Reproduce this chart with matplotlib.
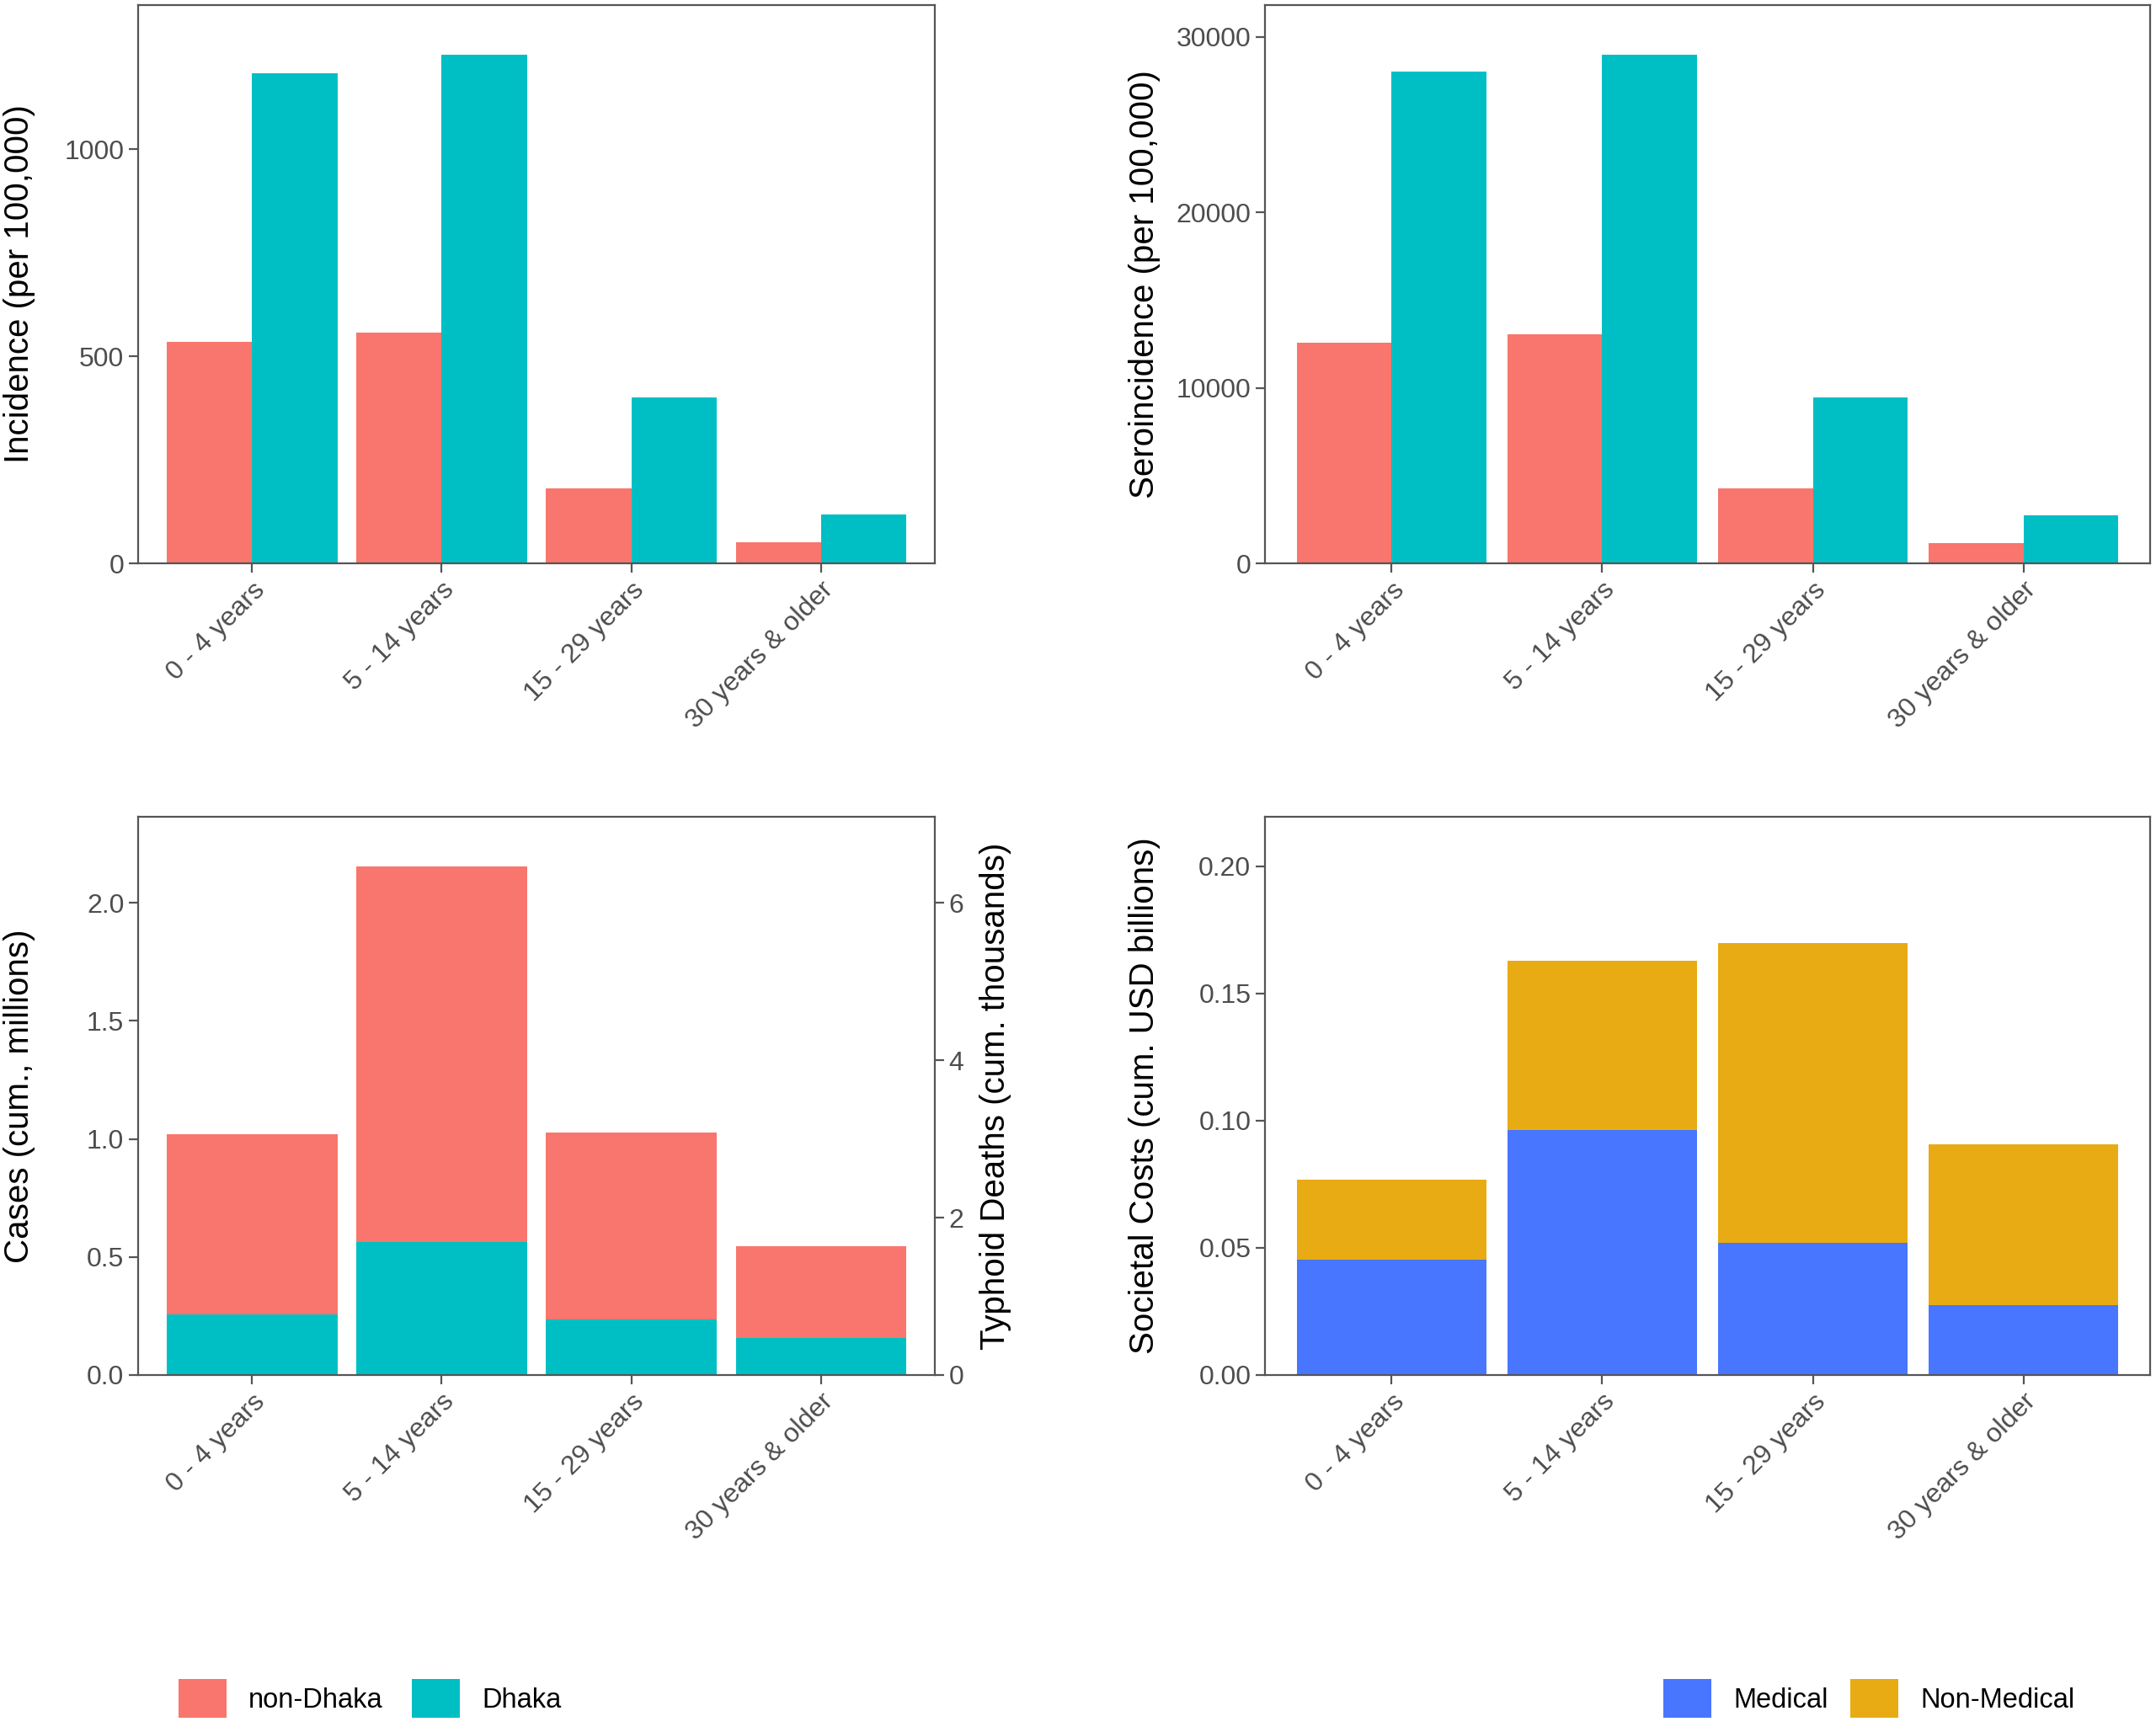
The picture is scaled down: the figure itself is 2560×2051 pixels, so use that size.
import matplotlib
matplotlib.use("Agg")
import matplotlib.pyplot as plt
from matplotlib.patches import Patch
import numpy as np

plt.rcParams['font.family'] = ['Liberation Sans', 'DejaVu Sans']

# ---------------- data ----------------
age_groups = ["0 - 4 years", "5 - 14 years", "15 - 29 years", "30 years & older"]

incidence_non_dhaka = [534, 558, 181, 50]
incidence_dhaka = [1184, 1229, 401, 117]

seroincidence_non_dhaka = [12580, 13070, 4250, 1160]
seroincidence_dhaka = [28050, 28980, 9460, 2750]

cases_dhaka = [0.255, 0.565, 0.234, 0.157]
cases_non_dhaka = [0.765, 1.590, 0.793, 0.390]

costs_medical = [0.0455, 0.0963, 0.0520, 0.0275]
costs_non_medical = [0.0312, 0.0665, 0.1178, 0.0631]

# ---------------- style ----------------
C_NON_DHAKA = "#F8766D"
C_DHAKA = "#00BFC4"
C_MED = "#4876FF"
C_NONMED = "#E8AB13"
SPINE = "#555555"
TICKTXT = "#4D4D4D"

TICK_FS = 23
TITLE_FS = 29
LEG_FS = 23.5

fig = plt.figure(figsize=(25.6, 20.51), dpi=100)

W, H = 2560, 2051
def axpos(l, r, t, b):
    return [l / W, 1 - b / H, (r - l) / W, (b - t) / H]

ax1 = fig.add_axes(axpos(164, 1110, 6, 669))
ax2 = fig.add_axes(axpos(1502, 2553, 6, 669))
ax3 = fig.add_axes(axpos(164, 1110, 970, 1633))
ax4 = fig.add_axes(axpos(1502, 2553, 970, 1633))

x = np.arange(1, len(age_groups) + 1)
bw = 0.45

def style(ax, ylabel, ymax, yticks, yticklabels, label_x):
    ax.set_xlim(0.4, 4.6)
    ax.set_ylim(0, ymax)
    ax.set_xticks(x)
    ax.set_xticklabels(age_groups, rotation=45, ha='right', va='top',
                       rotation_mode='anchor', fontsize=TICK_FS, color=TICKTXT)
    ax.set_yticks(yticks)
    ax.set_yticklabels(yticklabels, fontsize=TICK_FS, color=TICKTXT)
    for s in ax.spines.values():
        s.set_color(SPINE)
        s.set_linewidth(1.6)
    ax.tick_params(axis='both', direction='out', length=8, width=1.6, color=SPINE, pad=4)
    ax.set_ylabel(ylabel, fontsize=TITLE_FS, color='black', va='center')
    ax.yaxis.set_label_coords(label_x, 0.5)

# Panel 1
ax1.bar(x - bw / 2, incidence_non_dhaka, width=bw, color=C_NON_DHAKA)
ax1.bar(x + bw / 2, incidence_dhaka, width=bw, color=C_DHAKA)
style(ax1, "Incidence (per 100,000)", 1348, [0, 500, 1000], ["0", "500", "1000"], -0.149)

# Panel 2
ax2.bar(x - bw / 2, seroincidence_non_dhaka, width=bw, color=C_NON_DHAKA)
ax2.bar(x + bw / 2, seroincidence_dhaka, width=bw, color=C_DHAKA)
style(ax2, "Seroincidence (per 100,000)", 31820, [0, 10000, 20000, 30000],
      ["0", "10000", "20000", "30000"], -0.136)

# Panel 3
ax3.bar(x, cases_dhaka, width=0.9, color=C_DHAKA)
ax3.bar(x, cases_non_dhaka, width=0.9, bottom=cases_dhaka, color=C_NON_DHAKA)
cases_ymax = 2.364
style(ax3, "Cases (cum., millions)", cases_ymax, [0, 0.5, 1.0, 1.5, 2.0],
      ["0.0", "0.5", "1.0", "1.5", "2.0"], -0.149)
deaths_per_million_cases = 3.0
ax3b = ax3.twinx()
ax3b.set_ylim(0, cases_ymax * deaths_per_million_cases)
ax3b.set_yticks([0, 2, 4, 6])
ax3b.set_yticklabels(["0", "2", "4", "6"], fontsize=TICK_FS, color=TICKTXT)
ax3b.tick_params(axis='y', direction='out', length=8, width=1.6, color=SPINE, pad=4)
for s in ax3b.spines.values():
    s.set_visible(False)
ax3b.set_ylabel("Typhoid Deaths (cum. thousands)", fontsize=TITLE_FS, rotation=90,
                va='center')
ax3b.yaxis.set_label_coords(1.076, 0.5)

# Panel 4
ax4.bar(x, costs_medical, width=0.9, color=C_MED)
ax4.bar(x, costs_non_medical, width=0.9, bottom=costs_medical, color=C_NONMED)
style(ax4, "Societal Costs (cum. USD billions)", 0.2194, [0, 0.05, 0.10, 0.15, 0.20],
      ["0.00", "0.05", "0.10", "0.15", "0.20"], -0.136)

# Legends
h1 = [Patch(facecolor=C_NON_DHAKA), Patch(facecolor=C_DHAKA)]
fig.legend(h1, ["non-Dhaka", "Dhaka"], loc='center left',
           bbox_to_anchor=(212 / W, 1 - 2017 / H), ncol=2, frameon=False,
           fontsize=LEG_FS, handlelength=1.75, handleheight=1.75,
           columnspacing=1.05, handletextpad=0.8, borderpad=0, borderaxespad=0)
h2 = [Patch(facecolor=C_MED), Patch(facecolor=C_NONMED)]
fig.legend(h2, ["Medical", "Non-Medical"], loc='center left',
           bbox_to_anchor=(1975 / W, 1 - 2017 / H), ncol=2, frameon=False,
           fontsize=LEG_FS, handlelength=1.75, handleheight=1.75,
           columnspacing=0.8, handletextpad=0.8, borderpad=0, borderaxespad=0)

fig.savefig("out.png", dpi=100)
